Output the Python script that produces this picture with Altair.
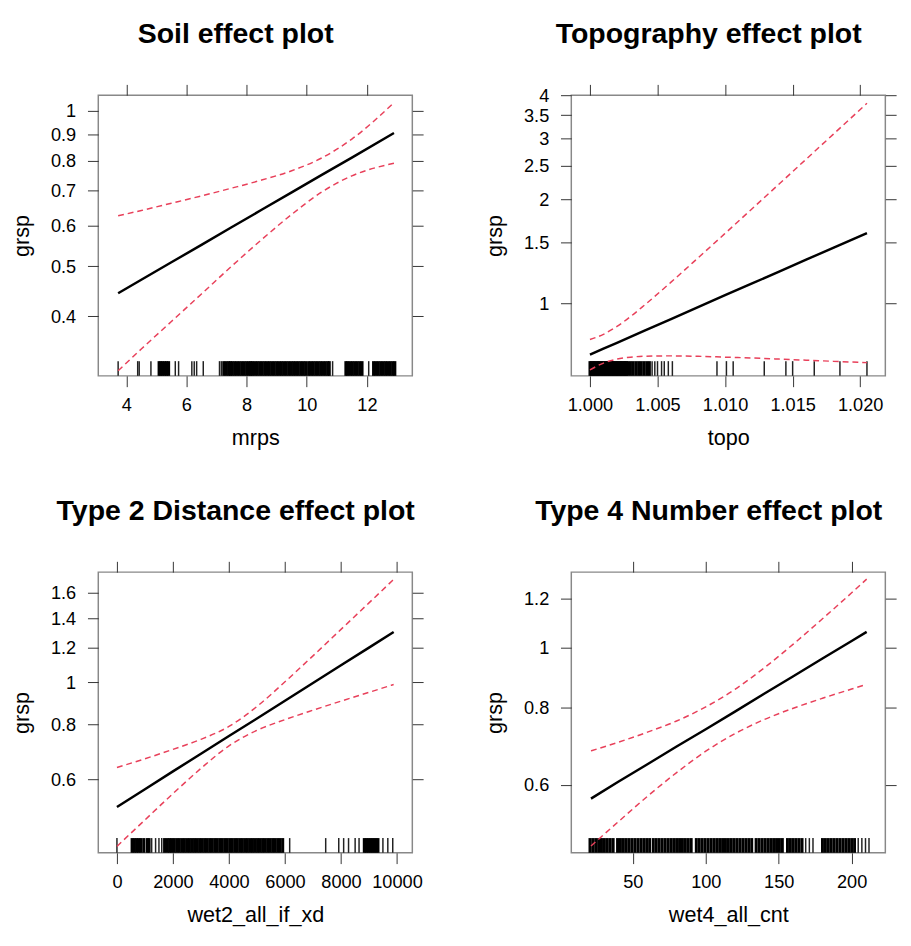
import altair as alt
import pandas as pd

RED = "#e8405a"

# ---------------- Panel 1: Soil (mrps) ----------------
soil_x = [3.73, 4.5, 5.5, 6.5, 7.5, 8.5, 9.5, 10.5, 11.5, 12.9]
soil_fit = [0.4435, 0.471, 0.509, 0.550, 0.595, 0.643, 0.695, 0.751, 0.811, 0.905]
soil_up = [0.626, 0.641, 0.662, 0.684, 0.708, 0.734, 0.765, 0.810, 0.881, 1.036]
soil_lo = [0.314, 0.346, 0.391, 0.442, 0.500, 0.563, 0.630, 0.696, 0.748, 0.791]
soil_rug_sparse = [3.73, 4.38, 4.43, 4.82, 5.63, 5.74, 6.18, 6.26, 6.34, 6.56,
                   7.1, 7.16, 10.86, 12.06]
soil_rug_dense = [5.09, 5.15, 5.21, 5.28, 5.34, 5.41,
                  7.24, 7.32, 7.4, 7.46, 7.52, 7.6, 7.68, 7.76, 7.84, 7.92, 8.0,
                  8.08, 8.14, 8.2, 8.28, 8.36, 8.44, 8.52, 8.6, 8.68, 8.76, 8.84, 8.92,
                  9.0, 9.08, 9.16, 9.24, 9.32, 9.4, 9.48, 9.56, 9.64, 9.72, 9.8, 9.88,
                  9.96, 10.06, 10.14, 10.22, 10.3, 10.38, 10.46, 10.54, 10.62, 10.7,
                  10.75, 11.3, 11.36, 11.44, 11.52, 11.6, 11.68, 11.76, 11.84,
                  12.22, 12.3, 12.38, 12.46, 12.54, 12.62, 12.7, 12.78, 12.86, 12.93]

# ---------------- Panel 2: Topography (topo) ----------------
topo_x = [1.000, 1.001, 1.002, 1.003, 1.004, 1.006, 1.008, 1.010, 1.012, 1.014,
          1.016, 1.018, 1.0205]
topo_fit = [0.713, 0.742, 0.771, 0.802, 0.835, 0.903, 0.977, 1.058, 1.144, 1.238,
            1.340, 1.450, 1.600]
topo_up = [0.788, 0.816, 0.860, 0.918, 0.988, 1.154, 1.356, 1.596, 1.880, 2.216,
           2.614, 3.083, 3.790]
topo_lo = [0.644, 0.674, 0.692, 0.701, 0.705, 0.707, 0.705, 0.701, 0.697, 0.692,
           0.687, 0.682, 0.676]
topo_rug_dense = [1.0000, 1.0001, 1.0002, 1.0003, 1.0004, 1.0005, 1.0006, 1.0007,
                  1.0008, 1.0009, 1.0010, 1.0011, 1.0012, 1.0013, 1.0014, 1.0015,
                  1.0016, 1.0017, 1.0018, 1.0019, 1.0020, 1.0021, 1.0022, 1.0023,
                  1.0024, 1.0025, 1.0026, 1.0027, 1.0028, 1.0030, 1.0032, 1.0034,
                  1.0036, 1.0038, 1.0040, 1.0042, 1.0044]
topo_rug_sparse = [1.0046, 1.0048, 1.0050, 1.0053, 1.0055, 1.0058, 1.0061,
                   1.0094, 1.0101, 1.0106, 1.0129, 1.0145, 1.0150, 1.0166, 1.0185,
                   1.0205]

# ---------------- Panel 3: Type 2 Distance (wet2_all_if_xd) ----------------
wet2_x = [0, 1000, 2000, 3000, 4000, 5000, 6000, 7000, 8000, 9000, 9881]
wet2_fit = [0.518, 0.569, 0.625, 0.686, 0.753, 0.826, 0.907, 0.996, 1.093, 1.200, 1.303]
wet2_up = [0.638, 0.668, 0.702, 0.740, 0.792, 0.880, 1.002, 1.149, 1.321, 1.519, 1.719]
wet2_lo = [0.421, 0.484, 0.556, 0.635, 0.715, 0.776, 0.821, 0.863, 0.905, 0.948, 0.988]
wet2_rug_sparse = [0, 1240, 1380, 1500, 1600, 6168, 7454, 7920, 8095, 8270, 8505,
                   8645, 9497, 9672, 9848]
wet2_rug_dense = [540, 620, 700, 780, 860, 960, 1080, 1150, 1700, 1800, 1880,
                  1960, 2050, 2140, 2230, 2320, 2410, 2500, 2590, 2680, 2770,
                  2860, 2950, 3040, 3130, 3220, 3310, 3400, 3490, 3580, 3670, 3760,
                  3850, 3940, 4030, 4120, 4210, 4300, 4390, 4480, 4570, 4660, 4750,
                  4840, 4930, 5020, 5110, 5200, 5290, 5380, 5470, 5560, 5650, 5740,
                  5830, 5920, 8831, 8900, 8970, 9040, 9110, 9180, 9250, 9322]

# ---------------- Panel 4: Type 4 Number (wet4_all_cnt) ----------------
wet4_x = [21.3, 40, 60, 80, 100, 120, 140, 160, 180, 200, 210.3]
wet4_fit = [0.570, 0.607, 0.648, 0.692, 0.738, 0.788, 0.842, 0.899, 0.960, 1.025, 1.060]
wet4_up = [0.681, 0.703, 0.730, 0.761, 0.802, 0.856, 0.927, 1.013, 1.113, 1.226, 1.290]
wet4_lo = [0.478, 0.523, 0.575, 0.628, 0.680, 0.726, 0.765, 0.798, 0.828, 0.857, 0.872]
wet4_rug_dense = [20.6, 22.5, 24.5, 26.5, 28.5, 30.5, 32.5, 34.5, 36.5, 39.5, 41.5,
                  43.5, 45.5, 47.5, 49.5, 51.5, 53.5, 55.5, 57.5, 59.5, 61.5, 64, 66,
                  68, 70, 72, 74, 76, 78, 80, 82, 84, 86, 88, 90, 93.5, 95.5, 97.5,
                  99.5, 101.5, 103.5, 105.5, 107.5, 109.5, 111.5, 113.5, 115.5, 117.5,
                  119.5, 121.5, 123.5, 125.5, 127.5, 129.5, 131.5, 134.5, 136.5,
                  138.5, 140.5, 142.5, 144.5, 146.5, 148.5, 150.5, 152.5, 156, 158,
                  160, 162, 164, 166, 180, 182, 184, 186, 188, 190, 192, 194, 196,
                  198, 200, 202]
wet4_rug_sparse = [168.5, 171, 173.5, 204.5, 207, 209.5, 211.9]

W, H = 320, 286
TICK = 11


def panel(title, xname, xdomain, xticks, xfmt, ydomain, yticks,
          xs, fit, up, lo, rug_dense, rug_sparse):
    df = pd.DataFrame({xname: xs, "fit": fit, "upper": up, "lower": lo})
    ddf = pd.DataFrame({xname: rug_dense})
    sdf = pd.DataFrame({xname: rug_sparse})
    xs_ = alt.Scale(domain=xdomain, nice=False, zero=False)
    ys_ = alt.Scale(type="log", domain=ydomain, nice=False)

    x_bottom = alt.X(f"{xname}:Q", scale=xs_, axis=alt.Axis(
        orient="bottom", values=xticks, format=xfmt, title=xname,
        tickSize=TICK, labelPadding=9, titlePadding=14, labelFlush=False))
    x_top = alt.X(f"{xname}:Q", scale=xs_, axis=alt.Axis(
        orient="top", values=xticks, labels=False, title=None, tickSize=TICK))
    y_left = alt.Y("fit:Q", scale=ys_, axis=alt.Axis(
        orient="left", values=yticks, format="~g", title="grsp",
        tickSize=TICK, labelPadding=12, titlePadding=17, labelFlush=False))
    y_right = alt.Y("upper:Q", scale=ys_, axis=alt.Axis(
        orient="right", values=yticks, labels=False, title=None, tickSize=TICK))

    x_none = alt.X(f"{xname}:Q", scale=xs_, axis=None)
    rug_dense_layer = alt.Chart(ddf).mark_rule(color="black", strokeWidth=3.0).encode(
        x=x_none, y=alt.value(H), y2=alt.value(H - 15))
    rug_sparse_layer = alt.Chart(sdf).mark_rule(color="#222222", strokeWidth=1.5).encode(
        x=x_none, y=alt.value(H), y2=alt.value(H - 15))
    up_layer = alt.Chart(df).mark_line(
        color=RED, strokeWidth=1.5, strokeDash=[6, 4], interpolate="monotone"
    ).encode(x=x_top, y=y_right)
    lo_layer = alt.Chart(df).mark_line(
        color=RED, strokeWidth=1.5, strokeDash=[6, 4], interpolate="monotone"
    ).encode(x=x_none, y=alt.Y("lower:Q", scale=ys_, axis=None))
    fit_layer = alt.Chart(df).mark_line(color="black", strokeWidth=2.5).encode(
        x=x_bottom, y=y_left)

    return alt.layer(rug_dense_layer, rug_sparse_layer, up_layer, lo_layer,
                     fit_layer).properties(
        width=W, height=H,
        title=alt.TitleParams(title, anchor="middle", frame="group", dx=-20,
                              offset=36, fontSize=29, font="Liberation Sans",
                              fontWeight="bold", color="black"))


p1 = panel("Soil effect plot", "mrps", [3.07, 13.51], [4, 6, 8, 10, 12], "d",
           [0.307, 1.071], [0.4, 0.5, 0.6, 0.7, 0.8, 0.9, 1],
           soil_x, soil_fit, soil_up, soil_lo, soil_rug_dense, soil_rug_sparse)
p2 = panel("Topography effect plot", "topo", [0.99862, 1.02186],
           [1.000, 1.005, 1.010, 1.015, 1.020], ".3f",
           [0.619, 4.0], [1, 1.5, 2, 2.5, 3, 3.5, 4],
           topo_x, topo_fit, topo_up, topo_lo, topo_rug_dense, topo_rug_sparse)
p3 = panel("Type 2 Distance effect plot", "wet2_all_if_xd", [-666, 10547],
           [0, 2000, 4000, 6000, 8000, 10000], "d",
           [0.407, 1.786], [0.6, 0.8, 1, 1.2, 1.4, 1.6],
           wet2_x, wet2_fit, wet2_up, wet2_lo, wet2_rug_dense, wet2_rug_sparse)
p4 = panel("Type 4 Number effect plot", "wet4_all_cnt", [7.8, 223.1],
           [50, 100, 150, 200], "d",
           [0.466, 1.324], [0.6, 0.8, 1, 1.2],
           wet4_x, wet4_fit, wet4_up, wet4_lo, wet4_rug_dense, wet4_rug_sparse)

chart = alt.concat(p1, p2, p3, p4, columns=2,
                   spacing={"row": 47, "column": 59}).configure_view(
    stroke="#888888", strokeWidth=1.5
).configure_axis(
    domain=False, grid=False, tickColor="#333333", tickWidth=1,
    labelFont="Liberation Sans", labelFontSize=18.5, labelColor="black",
    titleFont="Liberation Sans", titleFontSize=22, titleFontWeight="normal",
    titleColor="black"
).properties(background="white",
             padding={"left": 2, "top": 2, "right": 5, "bottom": 5})

chart.save("out.html", embed_options={"renderer": "svg", "actions": False})
